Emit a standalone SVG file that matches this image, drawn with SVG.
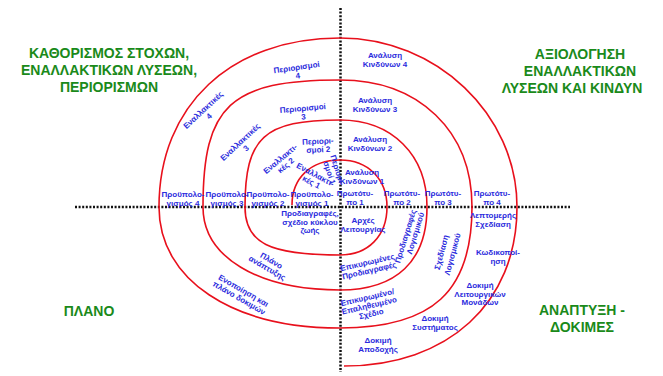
<svg xmlns="http://www.w3.org/2000/svg" width="663" height="376" viewBox="0 0 663 376">
  <style>
    .axis { fill: none; stroke: #111; stroke-width: 2.5; stroke-dasharray: 2 1.6; }
    .spiral { fill: none; stroke: #e8101c; stroke-width: 1.6; }
    .title { font-family: "Liberation Sans", Arial, sans-serif; font-weight: bold; font-size: 14px; fill: #1a8a1a; text-anchor: middle; }
    .lbl { font-family: "Liberation Sans", Arial, sans-serif; font-weight: bold; font-size: 8px; fill: #2b2bdd; text-anchor: middle; }
  </style>
  <rect width="663" height="376" fill="#ffffff"/>

  <!-- quadrant titles -->
  <g id="title-objectives">
    <text class="title" x="109" y="58">ΚΑΘΟΡΙΣΜΟΣ ΣΤΟΧΩΝ,</text>
    <text class="title" x="109" y="75">ΕΝΑΛΛΑΚΤΙΚΩΝ ΛΥΣΕΩΝ,</text>
    <text class="title" x="109" y="92">ΠΕΡΙΟΡΙΣΜΩΝ</text>
  </g>
  <g id="title-evaluation">
    <text class="title" x="580" y="59">ΑΞΙΟΛΟΓΗΣΗ</text>
    <text class="title" x="580" y="76">ΕΝΑΛΛΑΚΤΙΚΩΝ</text>
    <text class="title" x="572" y="93">ΛΥΣΕΩΝ ΚΑΙ ΚΙΝΔΥΝ</text>
  </g>
  <g id="title-plan">
    <text class="title" x="89" y="316">ΠΛΑΝΟ</text>
  </g>
  <g id="title-development">
    <text class="title" x="582" y="315">ΑΝΑΠΤΥΞΗ -</text>
    <text class="title" x="582" y="332">ΔΟΚΙΜΕΣ</text>
  </g>

  <!-- axes -->
  <g id="axes">
    <line class="axis" x1="75" y1="207" x2="570" y2="207"/>
    <line class="axis" x1="340.5" y1="8" x2="340.5" y2="372"/>
  </g>

  <!-- the spiral: four turns, clockwise, growing outward -->
  <g id="connectors">
    <path class="spiral" d="M292,205 C292,178 311,160 340,160
      C368,160 387,179 387,207
      C387,236 368,255 340,255
      C269,255 245,243 245,207
      C245,137.4 264,120 340,120
      C392,120 427,155 427,207
      C427,261 396.5,290 340,290
      C258,290 203,257 203,207
      C203,105.4 230.4,80 340,80
      C419,80 472,131 472,207
      C472,291.7 432.4,328 340,328
      C232,328 159,279.6 159,207
      C159,105.6 230.8,38 340,38
      C436,38 517,114 517,207
      C517,303 448,366 344,366"/>
  </g>

  <!-- objectives / alternatives / constraints quadrant -->
  <g id="constraints">
    <text class="lbl" transform="translate(297,70) rotate(-8)"><tspan x="0" y="0">Περιορισμοί</tspan><tspan x="0" y="8.5">4</tspan></text>
    <text class="lbl" transform="translate(303,111) rotate(-5)"><tspan x="0" y="0">Περιορισμοί</tspan><tspan x="0" y="8.5">3</tspan></text>
    <text class="lbl" transform="translate(318,144) rotate(-3)"><tspan x="0" y="0">Περιορι-</tspan><tspan x="0" y="8.5">σμοί 2</tspan></text>
    <text class="lbl" transform="translate(335,171) rotate(72)"><tspan x="0" y="0">Περιορι-</tspan><tspan x="0" y="8.5">σμοί 1</tspan></text>
  </g>
  <g id="alternatives">
    <text class="lbl" transform="translate(205,112) rotate(-43)"><tspan x="0" y="0">Εναλλακτικές</tspan><tspan x="0" y="8.5">4</tspan></text>
    <text class="lbl" transform="translate(242,144) rotate(-43)"><tspan x="0" y="0">Εναλλακτικές</tspan><tspan x="0" y="8.5">3</tspan></text>
    <text class="lbl" transform="translate(282,161) rotate(-40)"><tspan x="0" y="0">Εναλλακτι-</tspan><tspan x="0" y="8.5">κές 2</tspan></text>
    <text class="lbl" transform="translate(314,177) rotate(28)"><tspan x="0" y="0">Εναλλακτι-</tspan><tspan x="0" y="8.5">κές 1</tspan></text>
  </g>

  <!-- risk analysis quadrant -->
  <g id="risk">
    <text class="lbl"><tspan x="385" y="58">Ανάλυση</tspan><tspan x="385" y="66.5">Κινδύνων 4</tspan></text>
    <text class="lbl"><tspan x="375" y="103">Ανάλυση</tspan><tspan x="375" y="111.5">Κινδύνων 3</tspan></text>
    <text class="lbl"><tspan x="370" y="142">Ανάλυση</tspan><tspan x="370" y="150.5">Κινδύνων 2</tspan></text>
    <text class="lbl"><tspan x="362" y="175">Ανάλυση</tspan><tspan x="362" y="183.5">Κινδύνων 1</tspan></text>
  </g>
  <g id="prototypes">
    <text class="lbl"><tspan x="355" y="196">Πρωτότυ-</tspan><tspan x="355" y="204.5">πο 1</tspan></text>
    <text class="lbl"><tspan x="402" y="196">Πρωτότυ-</tspan><tspan x="402" y="204.5">πο 2</tspan></text>
    <text class="lbl"><tspan x="443" y="196">Πρωτότυ-</tspan><tspan x="443" y="204.5">πο 3</tspan></text>
    <text class="lbl"><tspan x="492" y="196">Πρωτότυ-</tspan><tspan x="492" y="204.5">πο 4</tspan></text>
  </g>

  <!-- development and test quadrant -->
  <g id="development">
    <text class="lbl"><tspan x="363" y="223">Αρχές</tspan><tspan x="363" y="231.5">Λειτουργίας</tspan></text>
    <text class="lbl" transform="translate(408,237) rotate(-73)">Προδιαγραφές</text>
    <text class="lbl" transform="translate(418,234) rotate(-73)">Λογισμικού</text>
    <text class="lbl" transform="translate(444,253) rotate(-75)">Σχεδίαση</text>
    <text class="lbl" transform="translate(455,255) rotate(-75)">Λογισμικού</text>
    <text class="lbl"><tspan x="493" y="218">Λεπτομερής</tspan><tspan x="493" y="226.5">Σχεδίαση</tspan></text>
    <text class="lbl"><tspan x="498" y="255">Κωδικοποί-</tspan><tspan x="498" y="263.5">ηση</tspan></text>
    <text class="lbl"><tspan x="480" y="288">Δοκιμή</tspan><tspan x="480" y="296.5">Λειτουργικών</tspan><tspan x="480" y="305">Μονάδων</tspan></text>
    <text class="lbl"><tspan x="435" y="321">Δοκιμή</tspan><tspan x="435" y="329.5">Συστήματος</tspan></text>
    <text class="lbl"><tspan x="378" y="343">Δοκιμή</tspan><tspan x="378" y="351.5">Αποδοχής</tspan></text>
    <text class="lbl" transform="translate(368,265) rotate(-13)"><tspan x="0" y="0">Επικυρωμένες</tspan><tspan x="0" y="8.5">Προδιαγραφές</tspan></text>
    <text class="lbl" transform="translate(368,300) rotate(-13)"><tspan x="0" y="0">Επικυρωμένο/</tspan><tspan x="0" y="8.5">Επαληθευμένο</tspan><tspan x="0" y="17">Σχέδιο</tspan></text>
  </g>

  <!-- planning quadrant -->
  <g id="planning">
    <text class="lbl"><tspan x="183" y="197">Προϋπολο-</tspan><tspan x="183" y="205.5">γισμός 4</tspan></text>
    <text class="lbl"><tspan x="227" y="197">Προϋπολο-</tspan><tspan x="227" y="205.5">γισμός 3</tspan></text>
    <text class="lbl"><tspan x="268" y="197">Προϋπολο-</tspan><tspan x="268" y="205.5">γισμός 2</tspan></text>
    <text class="lbl"><tspan x="312" y="197">Προϋπολο-</tspan><tspan x="312" y="205.5">γισμός 1</tspan></text>
    <text class="lbl"><tspan x="310" y="216">Προδιαγραφές,</tspan><tspan x="310" y="224.5">σχέδιο κύκλου</tspan><tspan x="310" y="233">ζωής</tspan></text>
    <text class="lbl" transform="translate(270,263) rotate(30)"><tspan x="0" y="0">Πλάνο</tspan><tspan x="0" y="8.5">ανάπτυξης</tspan></text>
    <text class="lbl" transform="translate(242,293) rotate(30)"><tspan x="0" y="0">Ενοποίηση και</tspan><tspan x="0" y="8.5">πλάνο δοκιμών</tspan></text>
  </g>
</svg>
